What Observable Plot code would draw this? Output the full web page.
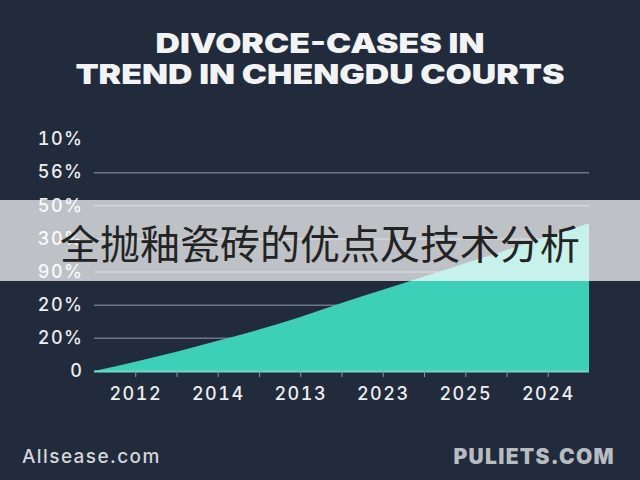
<!DOCTYPE html>
<html><head><meta charset="utf-8">
<script src="https://cdn.jsdelivr.net/npm/d3@7"></script>
<script src="https://cdn.jsdelivr.net/npm/@observablehq/plot@0.6"></script>
<style>
html,body{margin:0;padding:0;background:#222b3b;}
#wrap{position:relative;width:640px;height:480px;overflow:hidden;background:#222b3b;font-family:Inter,"Noto Sans",sans-serif;}
#title{position:absolute;top:28px;left:0;width:640px;text-align:center;color:#f2f3f5;font-weight:900;font-size:27.5px;line-height:31px;transform:scaleX(1.23);transform-origin:320px 0;}
#chart{position:absolute;top:110px;left:0;}
#banner{position:absolute;left:0;top:200px;width:640px;height:81px;background:rgba(255,255,255,0.71);}
#banner span{position:absolute;left:0;width:640px;top:18px;text-align:center;font-family:"Noto Sans CJK SC",sans-serif;font-size:40px;line-height:48px;color:#232323;font-weight:400;}
#foot-l{position:absolute;left:22px;top:445px;font-size:19px;color:#d3d6db;font-weight:500;letter-spacing:1.4px;}
#foot-r{position:absolute;right:25px;top:444px;font-size:21px;color:#b7bbc2;font-weight:900;letter-spacing:1.3px;}
</style></head>
<body>
<div id="wrap">
  <div id="title">DIVORCE-CASES IN<br>TREND IN CHENGDU COURTS</div>
  <div id="chart"></div>
  <div id="banner"><span>全抛釉瓷砖的优点及技术分析</span></div>
  <div id="foot-l">Allsease.com</div>
  <div id="foot-r">PULIETS.COM</div>
</div>
<script>
const xIndex = [0,1,2,3,4,5,6,7,8,9,10,11,12];
const values = [0,0.28,0.58,0.91,1.25,1.63,2.05,2.45,2.85,3.25,3.65,4.05,4.46];
const yTicks = [0,1,2,3,4,5,6,7];
const yTickLabels = ["0","20%","20%","90%","30%","50%","56%","10%"];
const gridLevels = [1,2,3,4,5,6];
const minorTicks = [1,2,3,4,5,6,7,8,9,10,11];
const labelTicks = [1,3,5,7,9,11];
const xTickLabels = ["2012","2014","2013","2023","2025","2024"];

const data = xIndex.map((x,i)=>({x, v: values[i]}));

const chart = Plot.plot({
  width: 640,
  height: 310,
  marginTop: 29,
  marginBottom: 49,
  marginLeft: 94,
  marginRight: 51,
  x: {domain: [0,12]},
  y: {domain: [0,7]},
  style: {background: "transparent", color: "#eceef1", fontFamily: "Inter, sans-serif", fontSize: "18px", letterSpacing: "1.5px"},
  marks: [
    Plot.ruleY(gridLevels, {stroke: "#6b7686", strokeWidth: 1.5}),
    Plot.areaY(data, {x: "x", y: "v", fill: "#3ecfb9", curve: "monotone-x"}),
    Plot.ruleY([0], {stroke: "#6fd9c8", strokeWidth: 2}),
    Plot.axisY({ticks: yTicks, tickSize: 0, tickPadding: 11, label: null, fontWeight: 500, fontSize: 18,
      tickFormat: d => yTickLabels[d]}),
    Plot.axisX({ticks: minorTicks, tickSize: 6, label: null, stroke: "#8d97a6", tickFormat: () => ""}),
    Plot.axisX({ticks: labelTicks, tickSize: 0, tickPadding: 16, label: null, fontWeight: 500, fontSize: 18,
      tickFormat: d => xTickLabels[labelTicks.indexOf(d)]})
  ]
});
document.getElementById("chart").appendChild(chart);
</script>
</body></html>
